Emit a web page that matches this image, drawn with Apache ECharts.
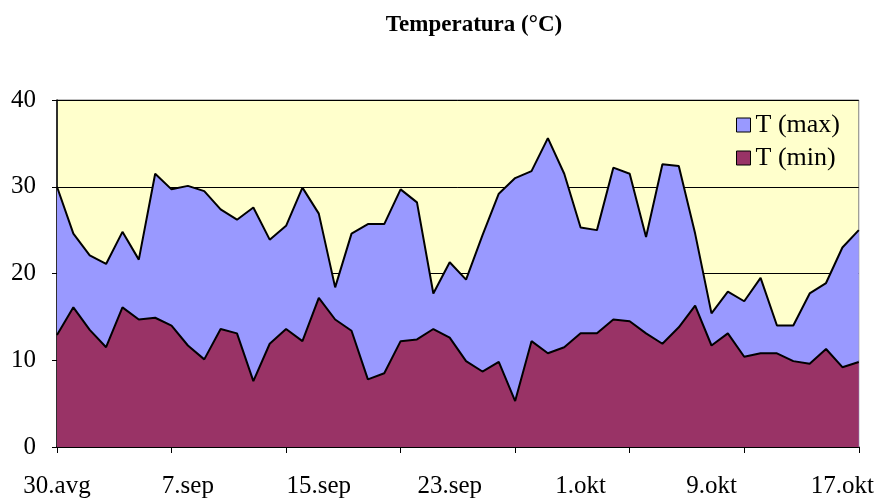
<!DOCTYPE html>
<html>
<head>
<meta charset="utf-8">
<script src="https://cdn.jsdelivr.net/npm/echarts@6/dist/echarts.min.js"></script>
<style>
  html, body { margin: 0; padding: 0; background: #fff; }
  #chart { width: 877px; height: 500px; }
</style>
</head>
<body>
<div id="chart"></div>
<script>
// dani od 30.avg do 18.okt
var days = [
  "30.avg", "31.avg",
  "1.sep", "2.sep", "3.sep", "4.sep", "5.sep", "6.sep", "7.sep", "8.sep", "9.sep", "10.sep",
  "11.sep", "12.sep", "13.sep", "14.sep", "15.sep", "16.sep", "17.sep", "18.sep", "19.sep", "20.sep",
  "21.sep", "22.sep", "23.sep", "24.sep", "25.sep", "26.sep", "27.sep", "28.sep", "29.sep", "30.sep",
  "1.okt", "2.okt", "3.okt", "4.okt", "5.okt", "6.okt", "7.okt", "8.okt", "9.okt", "10.okt",
  "11.okt", "12.okt", "13.okt", "14.okt", "15.okt", "16.okt", "17.okt", "18.okt"
];

var tMax = [
  30.0, 24.6, 22.1, 21.1, 24.8, 21.6, 31.5, 29.7, 30.1, 29.5,
  27.4, 26.2, 27.6, 23.9, 25.5, 29.9, 26.9, 18.4, 24.6, 25.7,
  25.7, 29.7, 28.2, 17.7, 21.3, 19.3, 24.4, 29.2, 31.0, 31.8,
  35.6, 31.5, 25.3, 25.0, 32.2, 31.5, 24.2, 32.6, 32.4, 24.6,
  15.4, 17.9, 16.8, 19.5, 14.0, 14.0, 17.7, 18.9, 23.0, 25.0
];

var tMin = [
  12.9, 16.1, 13.5, 11.5, 16.1, 14.7, 14.9, 14.0, 11.7, 10.1,
  13.6, 13.1, 7.6, 11.9, 13.6, 12.2, 17.2, 14.7, 13.4, 7.8,
  8.5, 12.2, 12.4, 13.6, 12.6, 9.9, 8.7, 9.8, 5.3, 12.2,
  10.8, 11.5, 13.1, 13.1, 14.7, 14.5, 13.1, 11.9, 13.8, 16.3,
  11.7, 13.1, 10.4, 10.8, 10.8, 9.9, 9.6, 11.3, 9.2, 9.8
];

var serif = "'Liberation Serif', 'DejaVu Serif', serif";

var chart = echarts.init(document.getElementById("chart"));
chart.setOption({
  animation: false,
  title: {
    text: "Temperatura (°C)",
    left: 469,
    top: 9,
    textAlign: "center",
    textStyle: { fontFamily: serif, fontSize: 23, fontWeight: "bold", color: "#000" }
  },
  legend: {
    orient: "vertical",
    left: 736,
    top: 112,
    icon: "rect",
    itemWidth: 14,
    itemHeight: 14,
    itemGap: 7,
    padding: 0,
    textStyle: { fontFamily: serif, fontSize: 26, lineHeight: 26, color: "#000" },
    itemStyle: { borderColor: "#000", borderWidth: 1 },
    data: ["T (max)", "T (min)"]
  },
  grid: {
    left: 57,
    right: 17,
    top: 100,
    bottom: 53,
    show: true,
    backgroundColor: "#FFFFCC",
    borderColor: "#808080",
    borderWidth: 1
  },
  xAxis: {
    type: "category",
    data: days,
    boundaryGap: false,
    axisLine: { lineStyle: { color: "#000", width: 1.5 } },
    axisTick: { interval: 6, length: 6, lineStyle: { color: "#000" } },
    axisLabel: {
      interval: 7,
      margin: 27,
      fontFamily: serif,
      fontSize: 25,
      color: "#000"
    },
    splitLine: { show: false }
  },
  yAxis: {
    type: "value",
    min: 0,
    max: 40,
    interval: 10,
    axisLine: { show: true, lineStyle: { color: "#000", width: 1.5 } },
    axisTick: { show: true, length: 5, lineStyle: { color: "#000" } },
    axisLabel: { fontFamily: serif, fontSize: 25, color: "#000", margin: 21 },
    splitLine: { lineStyle: { color: "#000", width: 1 } }
  },
  series: [
    {
      name: "T (max)",
      type: "line",
      data: tMax,
      symbol: "none",
      color: "#9999FF",
      lineStyle: { color: "#000", width: 2 },
      areaStyle: { color: "#9999FF", opacity: 1 }
    },
    {
      name: "T (min)",
      type: "line",
      data: tMin,
      symbol: "none",
      color: "#993366",
      lineStyle: { color: "#000", width: 2 },
      areaStyle: { color: "#993366", opacity: 1 }
    }
  ]
});
</script>
</body>
</html>
